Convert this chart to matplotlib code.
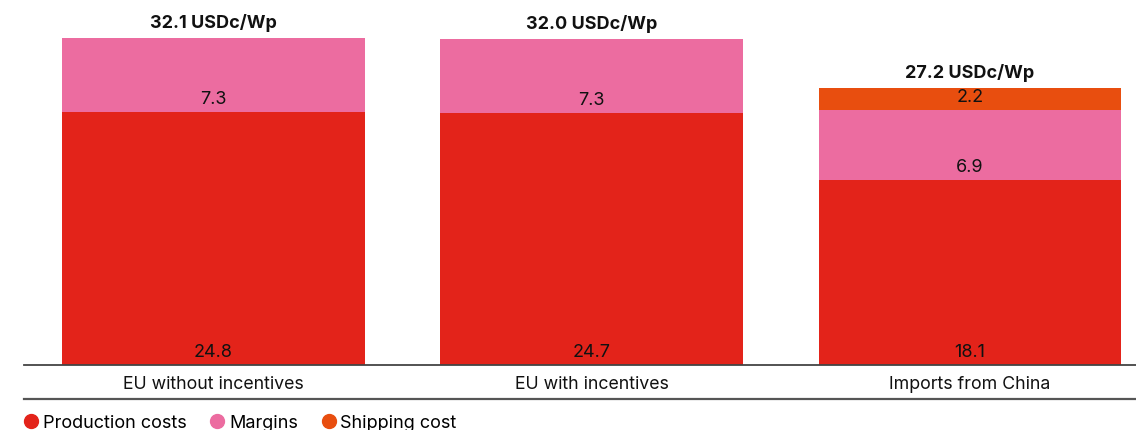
import matplotlib.pyplot as plt
from matplotlib.lines import Line2D
import numpy as np

categories = ["EU without incentives", "EU with incentives", "Imports from China"]
production = [24.8, 24.7, 18.1]
margins = [7.3, 7.3, 6.9]
shipping = [0.0, 0.0, 2.2]
totals = ["32.1 USDc/Wp", "32.0 USDc/Wp", "27.2 USDc/Wp"]
series_names = ["Production costs", "Margins", "Shipping cost"]

colors = ["#E3231A", "#EC6CA0", "#E84E0F"]

plt.rcParams["font.family"] = ["Inter", "DejaVu Sans"]

W, H = 1136, 430
fig = plt.figure(figsize=(W / 100, H / 100), dpi=100)
ax = fig.add_axes([24 / W, (H - 365) / H, 1 - 24 / W, 365 / H])

x = np.arange(len(categories))
width = 0.8
series = [production, margins, shipping]
bottom = np.zeros(len(categories))
for vals, col in zip(series, colors):
    vals = np.array(vals)
    ax.bar(x, vals, width, bottom=bottom, color=col, linewidth=0)
    for xi, b, v in zip(x, bottom, vals):
        if v > 0:
            ax.annotate(f"{v:.1f}", (xi, b), xytext=(0, 3), textcoords="offset points",
                        ha="center", va="bottom", fontsize=13, color="#111111")
    bottom += vals

for xi, tot, lab in zip(x, bottom, totals):
    ax.annotate(lab, (xi, tot), xytext=(0, 4), textcoords="offset points",
                ha="center", va="bottom", fontsize=13, fontweight="bold", color="#111111")

ax.set_xlim(-0.501, 2.439)
ax.set_ylim(0, 35.8)
for s in ["top", "right", "left"]:
    ax.spines[s].set_visible(False)
ax.spines["bottom"].set_color("#444444")
ax.spines["bottom"].set_linewidth(1.3)
ax.set_yticks([])
ax.set_xticks(x)
ax.set_xticklabels(categories, fontsize=12.8, color="#111111")
ax.tick_params(axis="x", length=0, pad=8)

# line below the category labels
fig.add_artist(Line2D([24 / W, 1], [(H - 399) / H] * 2, color="#555555", lw=1.6))

handles = [Line2D([], [], marker="o", ls="", markersize=10, color=c) for c in colors]
fig.legend(handles, series_names, loc="lower left", bbox_to_anchor=(13 / W, -9 / H),
           ncol=3, frameon=False, fontsize=13, handletextpad=0.05, handlelength=1.2,
           columnspacing=1.1, borderaxespad=0)

fig.savefig("out.png", dpi=100)
